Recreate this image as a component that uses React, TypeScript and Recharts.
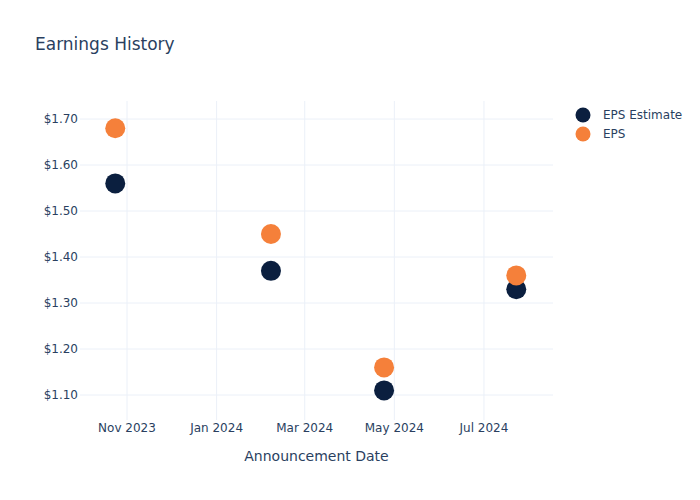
import React from "react";
import {
  ReferenceLine,
  Scatter,
  ScatterChart,
  XAxis,
  YAxis,
} from "recharts";

const dates = ["2023-10-24", "2024-02-07", "2024-04-24", "2024-07-23"];
const epsEstimate = [1.56, 1.37, 1.11, 1.33];
const eps = [1.68, 1.45, 1.16, 1.36];
const monthTicks = ["2023-11-01", "2024-01-01", "2024-03-01", "2024-05-01", "2024-07-01"];
const yTicks = [1.1, 1.2, 1.3, 1.4, 1.5, 1.6, 1.7];

const ts = (d: string) => new Date(d + "T00:00:00Z").getTime();
const MONTHS = ["Jan", "Feb", "Mar", "Apr", "May", "Jun", "Jul", "Aug", "Sep", "Oct", "Nov", "Dec"];

const estimateData = dates.map((d, i) => ({ date: ts(d), value: epsEstimate[i] }));
const epsData = dates.map((d, i) => ({ date: ts(d), value: eps[i] }));

const NAVY = "#0b1f3f";
const ORANGE = "#f5803a";
const TEXT = "#2a3f5f";
const GRID = "#ebf0f8";
const FONT = "'DejaVu Sans', sans-serif";

const dot = (color: string) => (props: any) => (
  <circle cx={props.cx} cy={props.cy} r={10} fill={color} />
);

const legendItems = [
  { name: "EPS Estimate", color: NAVY },
  { name: "EPS", color: ORANGE },
];

const App: React.FC = () => {
  return (
    <div style={{ position: "absolute", left: 0, top: 0, width: 700, height: 500, background: "#fff" }}>
      <div
        style={{
          position: "absolute",
          left: 35,
          top: 34,
          fontFamily: FONT,
          fontSize: 17,
          color: TEXT,
        }}
      >
        Earnings History
      </div>
      <div
        style={{
          position: "absolute",
          left: 575,
          top: 105,
          fontFamily: FONT,
          fontSize: 12,
          color: TEXT,
        }}
      >
        {legendItems.map((s) => (
          <div key={s.name} style={{ display: "flex", alignItems: "center", height: 19 }}>
            <svg width={16} height={16} style={{ marginRight: 12 }}>
              <circle cx={8} cy={8} r={7.5} fill={s.color} />
            </svg>
            <span>{s.name}</span>
          </div>
        ))}
      </div>
      <ScatterChart
        width={700}
        height={500}
        margin={{ top: 101, right: 147, left: 0, bottom: 0 }}
      >
        <XAxis
          type="number"
          dataKey="date"
          domain={[ts("2023-09-30"), ts("2024-08-17")]}
          ticks={monthTicks.map(ts)}
          tickFormatter={(v: number) => {
            const d = new Date(v);
            return `${MONTHS[d.getUTCMonth()]} ${d.getUTCFullYear()}`;
          }}
          axisLine={false}
          tickLine={false}
          height={80}
          tick={{ fill: TEXT, fontSize: 12, fontFamily: FONT }}
          tickMargin={-3}
          label={{
            value: "Announcement Date",
            position: "insideTop",
            offset: 31,
            fill: TEXT,
            fontSize: 14,
            fontFamily: FONT,
          }}
        />
        <YAxis
          type="number"
          dataKey="value"
          domain={[1.0457, 1.7392]}
          ticks={yTicks}
          tickFormatter={(v: number) => `$${v.toFixed(2)}`}
          axisLine={false}
          tickLine={false}
          tickSize={0}
          width={80}
          tick={{ fill: TEXT, fontSize: 12, fontFamily: FONT }}
          tickMargin={2}
        />
        {yTicks.map((t) => (
          <ReferenceLine key={`y${t}`} y={t} stroke={GRID} strokeWidth={1} />
        ))}
        {monthTicks.map((t) => (
          <ReferenceLine key={`x${t}`} x={ts(t)} stroke={GRID} strokeWidth={1} />
        ))}
        <Scatter
          name="EPS Estimate"
          data={estimateData}
          fill={NAVY}
          shape={dot(NAVY)}
          isAnimationActive={false}
        />
        <Scatter
          name="EPS"
          data={epsData}
          fill={ORANGE}
          shape={dot(ORANGE)}
          isAnimationActive={false}
        />
      </ScatterChart>
    </div>
  );
};

export default App;
